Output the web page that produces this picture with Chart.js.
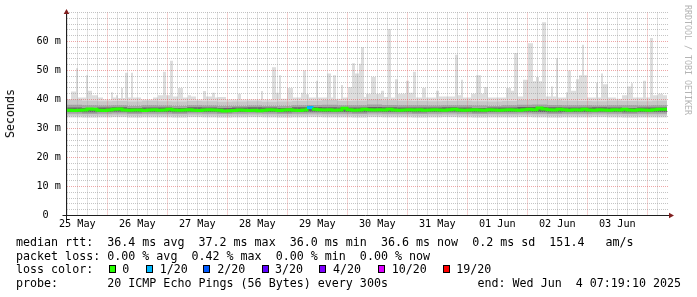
<!DOCTYPE html>
<html><head><meta charset="utf-8">
<script src="https://cdn.jsdelivr.net/npm/chart.js@4.4.1/dist/chart.umd.min.js"></script>
<style>
html,body{margin:0;padding:0;background:#fff;}
#wrap{position:relative;width:697px;height:297px;overflow:hidden;background:#fff;}
canvas{position:absolute;left:0;top:0;}
.t{position:absolute;font-family:'DejaVu Sans Mono',monospace;font-size:11.66px;line-height:14px;white-space:pre;color:#000;}
.box{position:absolute;width:5px;height:6px;border:1px solid #000;}
.rot{position:absolute;white-space:pre;font-family:'DejaVu Sans Mono',monospace;font-weight:normal;color:#000;writing-mode:vertical-rl;}
</style></head>
<body><div id="wrap"><canvas id="c" width="697" height="297" style="width:697px;height:297px"></canvas></div>
<script>
// ---------------- data ----------------
const START_TOD = 7.88;          // hour of day at the left edge (25 May)
const SPAN = 240;                // hours shown (10 days)
const dayLabels = ["25 May","26 May","27 May","28 May","29 May","30 May","31 May","01 Jun","02 Jun","03 Jun"];
const yLabelValues = [0,10,20,30,40,50,60];
const yLabelTexts  = ["0  ","10 m","20 m","30 m","40 m","50 m","60 m"];

// max ping envelope (hours since start -> ms)
const maxHours = [0,1.6,3.6,4.4,7.6,8.4,10,12.4,14.4,17.6,
 18.4,19.6,20.4,21.6,22.4,23.2,24.4,25.6,26.4,29.6,
 34.4,36.4,38.4,39.6,41.2,42.4,44.4,46.4,48.4,49.6,
 51.6,54.4,55.6,58,59.2,60.4,63.6,68.4,69.6,77.6,
 78.4,82,83.6,84.8,85.6,88,90.4,93.6,94.4,95.6,
 96.8,99.6,100.4,104,105.6,106.4,107.6,109.6,110.4,112.4,
 114,115.2,116.8,117.6,118.8,119.6,121.6,123.6,125.6,126.8,
 128.4,129.6,131.2,132.4,135.6,136.8,138.4,139.6,142,143.6,
 147.6,148.8,155.2,156.4,157.6,158.4,161.6,163.6,165.6,166.8,
 168.4,175.6,177.6,178.8,180.4,182.4,184.4,186.4,187.6,188.8,
 190,191.6,193.6,194.4,195.6,196.4,199.6,200.4,201.6,203.6,
 204.8,206,206.8,208,211.6,212.4,213.6,214.4,216.4,219.6,
 222,224,225.6,226.4,230.4,231.6,233.2,234.4,236.4,238.4];
const maxValues = [40.0,42.8,50.8,40.7,48.4,43.0,41.5,40.7,40.0,42.5,
 40.7,41.5,40.5,44.0,40.5,49.2,40.7,49.2,40.7,40.0,
 40.7,41.5,49.6,41.5,53.4,41.0,44.0,40.7,41.5,41.0,
 40.0,42.9,41.0,42.3,40.7,40.9,40.0,42.0,40.0,42.9,
 40.0,51.1,42.3,48.4,40.3,44.0,40.7,42.3,50.0,41.8,
 40.7,46.5,40.7,49.0,40.7,48.4,40.3,45.0,40.7,44.3,
 52.5,49.0,52.3,58.0,40.9,42.0,47.8,42.0,43.0,40.9,
 64.3,40.7,47.0,42.0,46.5,42.3,49.6,40.7,44.0,40.7,
 43.0,41.0,55.4,41.5,46.8,40.7,42.0,48.4,42.0,44.3,
 40.7,44.0,43.0,56.0,41.0,46.8,59.4,46.3,47.8,46.3,
 66.6,41.0,44.5,41.0,54.2,40.7,42.5,50.0,43.0,47.0,
 48.4,58.9,48.4,40.7,45.9,40.7,49.0,45.3,40.7,40.3,
 41.5,44.5,45.6,40.7,46.5,40.7,61.2,41.5,42.0,41.5];

// smoke bands, one value per 6 hours (ms)
const minPing = [33.8,33.7,33.8,33.9,33.7,33.8,33.8,33.7,33.9,33.8,33.7,33.8,33.9,33.8,33.7,33.8,33.9,33.8,33.8,33.7,33.9,33.8,33.8,33.7,33.8,33.9,33.8,33.7,33.8,33.8,33.9,33.8,33.7,33.8,33.8,33.9,33.8,33.7,33.8,33.8];
const low1 = [34.4,34.3,34.4,34.5,34.3,34.4,34.4,34.3,34.5,34.4,34.3,34.4,34.5,34.4,34.3,34.4,34.5,34.4,34.4,34.3,34.5,34.4,34.4,34.3,34.4,34.5,34.4,34.3,34.4,34.4,34.5,34.4,34.3,34.4,34.4,34.5,34.4,34.3,34.4,34.4];
const low2 = [35.1,35.0,35.1,35.2,35.0,35.1,35.1,35.0,35.2,35.1,35.0,35.1,35.2,35.1,35.0,35.1,35.2,35.1,35.1,35.0,35.2,35.1,35.1,35.0,35.1,35.2,35.1,35.0,35.1,35.1,35.2,35.1,35.0,35.1,35.1,35.2,35.1,35.0,35.1,35.1];
const low3 = [35.7,35.6,35.7,35.8,35.6,35.7,35.7,35.6,35.8,35.7,35.6,35.7,35.8,35.7,35.6,35.7,35.8,35.7,35.7,35.6,35.8,35.7,35.7,35.6,35.7,35.8,35.7,35.6,35.7,35.7,35.8,35.7,35.6,35.7,35.7,35.8,35.7,35.6,35.7,35.7];
const high3 = [37.2,37.1,37.2,37.3,37.1,37.2,37.2,37.1,37.3,37.2,37.1,37.2,37.3,37.2,37.1,37.3,37.4,37.3,37.2,37.2,37.4,37.3,37.2,37.2,37.2,37.3,37.2,37.1,37.2,37.2,37.4,37.4,37.3,37.2,37.2,37.3,37.2,37.1,37.2,37.2];
const high2 = [38.2,38.0,37.9,38.0,37.8,38.0,37.9,37.8,38.0,37.9,37.8,37.8,37.9,37.8,37.8,38.0,38.1,38.2,38.0,38.0,38.3,38.1,38.0,38.0,37.9,38.0,38.0,37.9,37.8,38.0,38.2,38.3,38.1,38.0,38.0,37.9,38.0,38.0,37.9,38.0];
const high1 = [40.0,39.6,39.4,39.5,39.3,39.6,39.4,39.3,39.5,39.4,39.2,39.3,39.4,39.2,39.3,39.5,39.6,39.8,39.5,39.6,40.0,39.7,39.6,39.5,39.4,39.5,39.6,39.4,39.3,39.5,39.8,40.0,39.7,39.6,39.5,39.4,39.6,39.5,39.4,39.6];

// median rtt, one value per 2 hours (ms)
const medianRtt = [
 36.3,36.2,36.3,36.4,36.7,36.6,36.3,36.2,36.4,36.6,
 36.7,36.4,36.3,36.4,36.4,36.2,36.4,36.5,36.3,36.4,
 36.6,36.4,36.3,36.4,36.5,36.3,36.2,36.4,36.5,36.4,
 36.3,36.0,36.1,36.2,36.4,36.3,36.2,36.3,36.1,36.3,
 36.5,36.4,36.2,36.4,36.5,36.3,36.2,36.4,37.2,36.6,
 36.5,36.4,36.5,36.3,36.4,37.0,36.5,36.3,36.4,36.6,
 36.5,36.4,36.5,36.4,36.6,36.4,36.3,36.4,36.5,36.4,
 36.5,36.3,36.4,36.5,36.4,36.3,36.5,36.6,36.4,36.3,
 36.4,36.5,36.4,36.3,36.5,36.4,36.3,36.4,36.5,36.4,
 36.3,36.5,36.6,36.5,37.1,36.7,36.5,36.4,36.6,36.5,
 36.3,36.5,36.4,36.6,36.4,36.3,36.5,36.4,36.3,36.5,
 36.4,36.6,36.4,36.3,36.5,36.4,36.3,36.5,36.6,36.6];
// packet loss (pings lost of 20) in the 2-hour median blocks
const lossBlock = [48];
const lossCount = [1];

// legend
const medianStats = ["36.4","37.2","36.0","36.6","0.2","151.4"];
const lossStats = ["0.00","0.42","0.00","0.00"];
const lossLabels = ["0","1/20","2/20","3/20","4/20","10/20","19/20"];
const lossThresh = [0,1,2,3,4,10,19];
const lossColors = ["#26ff00","#00b8ff","#0059ff","#5e00ff","#7e00ff","#dd00ff","#ff0000"];

// ---------------- helpers ----------------
function steps(hours, vals){
  const p = hours.map((h,i)=>({x:h,y:vals[i]}));
  p.push({x:SPAN,y:vals[vals.length-1]});
  return p;
}
function blocks(vals, w){ return steps(vals.map((_,i)=>i*w), vals); }
function lossColor(n){
  let c = lossColors[0];
  lossThresh.forEach((t,i)=>{ if(n>=t) c = lossColors[i]; });
  return c;
}
const lossAt = {};
lossBlock.forEach((b,i)=>{ lossAt[b]=lossCount[i]; });

const clear = 'rgba(0,0,0,0)';
function boundary(data){ return {data, borderColor:clear, backgroundColor:clear, pointRadius:0, fill:false, stepped:true, order:20}; }
function band(data, target, color, order){ return {data, borderColor:clear, borderWidth:1, backgroundColor:color, pointRadius:0, fill:target, stepped:true, order}; }

const datasets = [
  boundary(blocks(minPing,6)),                          //0
  band(steps(maxHours,maxValues),0,'#dddddd',10),      //1
  boundary(blocks(low1,6)),                             //2
  band(blocks(high1,6),2,'#c8c8c8',9),                 //3
  boundary(blocks(low2,6)),                             //4
  band(blocks(high2,6),4,'#a4a4a4',8),                 //5
  boundary(blocks(low3,6)),                             //6
  Object.assign(band(blocks(high3,6),6,'#666666',7),{gridAfter:true}), //7
  {data:blocks(medianRtt,2), borderColor:lossColors[0], borderWidth:3, pointRadius:0, fill:false, stepped:true, order:1,
   segment:{borderColor: c => lossColor(lossAt[c.p0DataIndex]||0)}}
];

// ---------------- plugins ----------------
const GRID = 'rgba(150,150,150,0.55)', MGRID = 'rgba(222,79,79,0.5)';
const gridPlugin = {
  id:'rrdgrid',
  afterDatasetDraw(chart,args){
    if(!chart.data.datasets[args.index].gridAfter) return;
    const {ctx, chartArea:a, scales:{x,y}} = chart;
    ctx.save();
    ctx.lineWidth = 1; ctx.setLineDash([1,1]);
    x.ticks.forEach(t=>{
      const px = Math.floor(x.getPixelForValue(t.value))+0.5;
      const tod = Math.round(t.value+START_TOD);
      ctx.strokeStyle = (tod%24===0)?MGRID:GRID;
      ctx.beginPath(); ctx.moveTo(px,a.top); ctx.lineTo(px,a.bottom); ctx.stroke();
    });
    y.ticks.forEach(t=>{
      if(t.value<=0) return;
      const py = Math.floor(y.getPixelForValue(t.value))+0.5;
      ctx.strokeStyle = (t.value%10===0 && t.value<70)?MGRID:GRID;
      ctx.beginPath(); ctx.moveTo(a.left,py); ctx.lineTo(a.right+1,py); ctx.stroke();
    });
    ctx.restore();
  }
};
const axisPlugin = {
  id:'rrdaxis',
  afterDraw(chart){
    const {ctx, chartArea:a, scales:{x,y}} = chart;
    const y0 = Math.floor(y.getPixelForValue(0))+0.5;
    const x0 = Math.floor(x.getPixelForValue(0))-0.5;
    ctx.save();
    ctx.strokeStyle = 'rgb(31,31,31)'; ctx.lineWidth = 1;
    ctx.beginPath(); ctx.moveTo(x0-4,y0); ctx.lineTo(a.right+2,y0); ctx.stroke();
    ctx.beginPath(); ctx.moveTo(x0,y0+4); ctx.lineTo(x0,a.top-1); ctx.stroke();
    ctx.fillStyle = 'rgb(128,31,31)';
    ctx.beginPath(); ctx.moveTo(a.right+7,y0); ctx.lineTo(a.right+2,y0-2.8); ctx.lineTo(a.right+2,y0+2.8); ctx.closePath(); ctx.fill();
    ctx.beginPath(); ctx.moveTo(x0,a.top-3.5); ctx.lineTo(x0-2.8,a.top+1.5); ctx.lineTo(x0+2.8,a.top+1.5); ctx.closePath(); ctx.fill();
    ctx.restore();
  }
};

const tickFont = {family:"'DejaVu Sans Mono'", size:10.2};
new Chart(document.getElementById('c'), {
  type:'line',
  data:{datasets},
  plugins:[gridPlugin, axisPlugin],
  options:{
    responsive:false, animation:false, devicePixelRatio:1, events:[],
    layout:{padding:{left:0,right:30,top:12.5,bottom:0}},
    plugins:{legend:{display:false}, tooltip:{enabled:false}, title:{display:false}},
    elements:{line:{tension:0}},
    scales:{
      x:{type:'linear', min:0, max:SPAN,
        afterFit(s){ s.height = 81.5; },
        afterBuildTicks(s){
          const t=[]; const first=(4-START_TOD%4)%4;
          for(let v=first; v<=SPAN+1e-9; v+=4) t.push({value:+v.toFixed(4)});
          s.ticks=t;
        },
        grid:{display:false, drawTicks:false}, border:{display:false},
        ticks:{autoSkip:false, maxRotation:0, minRotation:0, padding:3, color:'#000', font:tickFont,
          callback(v){ const tod=Math.round(v+START_TOD); return (tod%24===12)?dayLabels[Math.floor(tod/24)]:''; }}
      },
      y:{type:'linear', min:0, max:70,
        afterFit(s){ s.width = 67; },
        afterBuildTicks(s){ const t=[]; for(let v=0; v<=70; v+=2) t.push({value:v}); s.ticks=t; },
        grid:{display:false, drawTicks:false}, border:{display:false},
        ticks:{autoSkip:false, padding:6, color:'#000', font:tickFont,
          callback(v){ const i=yLabelValues.indexOf(v); return i>=0?yLabelTexts[i]:''; }}
      }
    }
  }
});

// ---------------- legend (text) ----------------
const wrap = document.getElementById('wrap');
function addText(txt, left, top, cls){ const d=document.createElement('div'); d.className=cls||'t'; d.textContent=txt; d.style.left=left+'px'; d.style.top=top+'px'; wrap.appendChild(d); return d; }
const m = medianStats;
addText(`median rtt:  ${m[0]} ms avg  ${m[1]} ms max  ${m[2]} ms min  ${m[3]} ms now  ${m[4]} ms sd  ${m[5]}   am/s`, 16, 235);
const l = lossStats;
addText(`packet loss: ${l[0]} % avg  ${l[1]} % max  ${l[2]} % min  ${l[3]} % now`, 16, 248.7);
addText('loss color:', 16, 262.4);
const boxX = [108.7,146,203.3,261.7,319.3,378.3,442.7];
const labX = [122.3,159.7,217.3,275,333,391.7,456.3];
lossLabels.forEach((lab,i)=>{
  const b=document.createElement('div'); b.className='box'; b.style.left=boxX[i]+'px'; b.style.top='265px'; b.style.background=lossColors[i]; wrap.appendChild(b);
  addText(lab, labX[i], 262.4);
});
addText('probe:       20 ICMP Echo Pings (56 Bytes) every 300s', 16, 276.1);
addText('end: Wed Jun  4 07:19:10 2025', 477.5, 276.1);

const s = addText('Seconds', 4, 89, 'rot');
s.style.fontSize='11.66px'; s.style.lineHeight='13px'; s.style.transform='rotate(180deg)';
const r = addText('RRDTOOL / TOBI OETIKER', 683, 5, 'rot');
r.style.fontSize='8.3px'; r.style.lineHeight='9px'; r.style.color='#b4b4b4';
</script>
</body></html>
